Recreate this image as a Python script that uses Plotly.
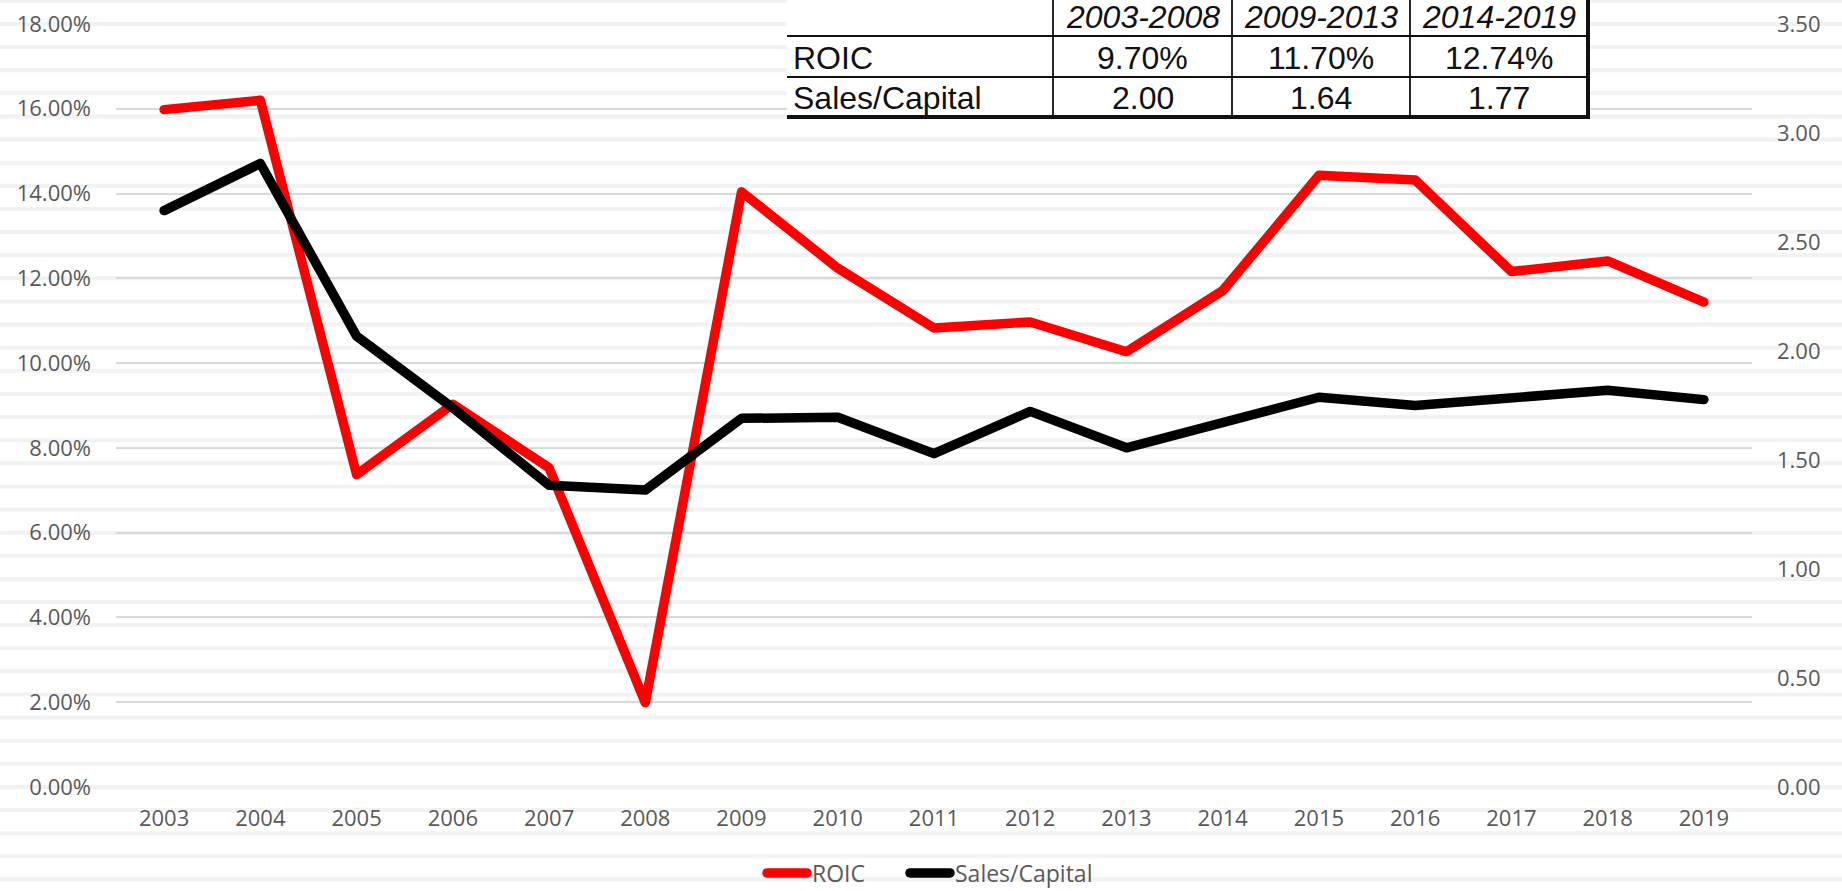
import plotly.graph_objects as go

years = [str(y) for y in range(2003, 2020)]
roic = [0.1598, 0.1620, 0.0737, 0.0903, 0.0753, 0.0199, 0.1404, 0.1224, 0.1083,
        0.1097, 0.1027, 0.1171, 0.1443, 0.1432, 0.1216, 0.1241, 0.1144]
sales_capital = [2.644, 2.860, 2.068, 1.739, 1.384, 1.362, 1.691, 1.696, 1.529,
                 1.723, 1.556, 1.669, 1.788, 1.750, 1.782, 1.820, 1.777]

table_header = ["", "2003-2008", "2009-2013", "2014-2019"]
table_rows = [["ROIC", "9.70%", "11.70%", "12.74%"],
              ["Sales/Capital", "2.00", "1.64", "1.77"]]

W, H = 1842, 891
L, R, T, B = 116, 90, 24, 104
PW, PH = W - L - R, H - T - B


def px(x):
    return (x - L) / PW


def py(y):
    return (H - B - y) / PH


FONT = "Open Sans"
tick_font = dict(family=FONT, size=22, color="#595959")

fig = go.Figure()
fig.add_trace(go.Scatter(x=years, y=roic, name="ROIC", mode="lines",
                         line=dict(color="#ff0000", width=9.5), yaxis="y", legend="legend"))
fig.add_trace(go.Scatter(x=years, y=sales_capital, name="Sales/Capital", mode="lines",
                         line=dict(color="#000000", width=9.5), yaxis="y2", legend="legend2"))

shapes = []
# faint background stripes
k = -1
while True:
    yy = 24 + 23.12 * k
    if yy > H:
        break
    shapes.append(dict(type="line", xref="paper", yref="paper",
                       x0=px(0), x1=px(W), y0=py(yy), y1=py(yy),
                       line=dict(color="#f2f2f2", width=4), layer="below"))
    k += 1

# table
tx0, tx1 = 787, 1588
ty0, ty1 = -5, 117
cols = [787, 1053, 1232, 1410, 1588]
rows = [-5, 36, 77, 117]
shapes.append(dict(type="rect", xref="paper", yref="paper",
                   x0=px(tx0), x1=px(tx1 + 2), y0=py(ty0), y1=py(ty1 + 2),
                   fillcolor="white", line=dict(width=0), layer="above"))
for c in cols[1:4]:
    shapes.append(dict(type="line", xref="paper", yref="paper",
                       x0=px(c), x1=px(c), y0=py(ty0), y1=py(ty1),
                       line=dict(color="#111111", width=1.8), layer="above"))
for r in rows[1:3]:
    shapes.append(dict(type="line", xref="paper", yref="paper",
                       x0=px(tx0), x1=px(tx1), y0=py(r), y1=py(r),
                       line=dict(color="#111111", width=1.8), layer="above"))
shapes.append(dict(type="line", xref="paper", yref="paper",
                   x0=px(tx0), x1=px(tx1 + 2), y0=py(ty1), y1=py(ty1),
                   line=dict(color="#111111", width=4), layer="above"))
shapes.append(dict(type="line", xref="paper", yref="paper",
                   x0=px(tx1), x1=px(tx1), y0=py(ty0), y1=py(ty1),
                   line=dict(color="#111111", width=4), layer="above"))

annotations = []
tfont = dict(family="Liberation Sans", size=32, color="#111111")
for i, h in enumerate(table_header):
    if h:
        annotations.append(dict(xref="paper", yref="paper", x=px((cols[i] + cols[i + 1]) / 2),
                                y=py(17), text=f"<i>{h}</i>", showarrow=False,
                                xanchor="center", yanchor="middle", font=tfont))
for ri, row in enumerate(table_rows):
    ymid = (rows[ri + 1] + rows[ri + 2]) / 2 + 1
    for ci, val in enumerate(row):
        if ci == 0:
            annotations.append(dict(xref="paper", yref="paper", x=px(791), y=py(ymid),
                                    text=val, showarrow=False, xanchor="left",
                                    yanchor="middle", font=tfont))
        else:
            annotations.append(dict(xref="paper", yref="paper",
                                    x=px((cols[ci] + cols[ci + 1]) / 2), y=py(ymid),
                                    text=val, showarrow=False, xanchor="center",
                                    yanchor="middle", font=tfont))

legend_style = dict(orientation="h", y=py(873), xanchor="left", yanchor="middle",
                    font=dict(family=FONT, size=23, color="#595959"),
                    bgcolor="rgba(0,0,0,0)", itemwidth=40, borderwidth=0)

fig.update_layout(
    width=W, height=H,
    margin=dict(l=L, r=R, t=T, b=B, autoexpand=False),
    paper_bgcolor="white", plot_bgcolor="rgba(0,0,0,0)",
    font=dict(family=FONT, color="#595959"),
    xaxis=dict(type="category", range=[-0.5, 16.5], showgrid=False, zeroline=False,
               showline=False, ticks="", tickfont=tick_font, ticklabelstandoff=16,
               automargin=False),
    yaxis=dict(range=[0, 0.18], dtick=0.02, tickformat=".2%", showgrid=True,
               gridcolor="#d9d9d9", gridwidth=1.5, zeroline=False, showline=False,
               tickfont=tick_font, ticklabelstandoff=24, automargin=False),
    yaxis2=dict(range=[0, 3.5], dtick=0.5, tickformat=".2f", overlaying="y", side="right",
                showgrid=False, zeroline=False, showline=False, tickfont=tick_font,
                ticklabelstandoff=24, automargin=False),
    legend=dict(x=px(762), **legend_style),
    legend2=dict(x=px(905), **legend_style),
    shapes=shapes,
    annotations=annotations,
    showlegend=True,
)

post = (
    "document.body.style.margin='0';document.body.style.overflow='hidden';"
    "document.querySelectorAll('.scatterlayer path.js-line, .legendlines path')"
    ".forEach(function(p){p.style.strokeLinejoin='round';p.style.strokeLinecap='round';});"
)
fig.write_html("out.html", config={"displayModeBar": False}, post_script=post)
